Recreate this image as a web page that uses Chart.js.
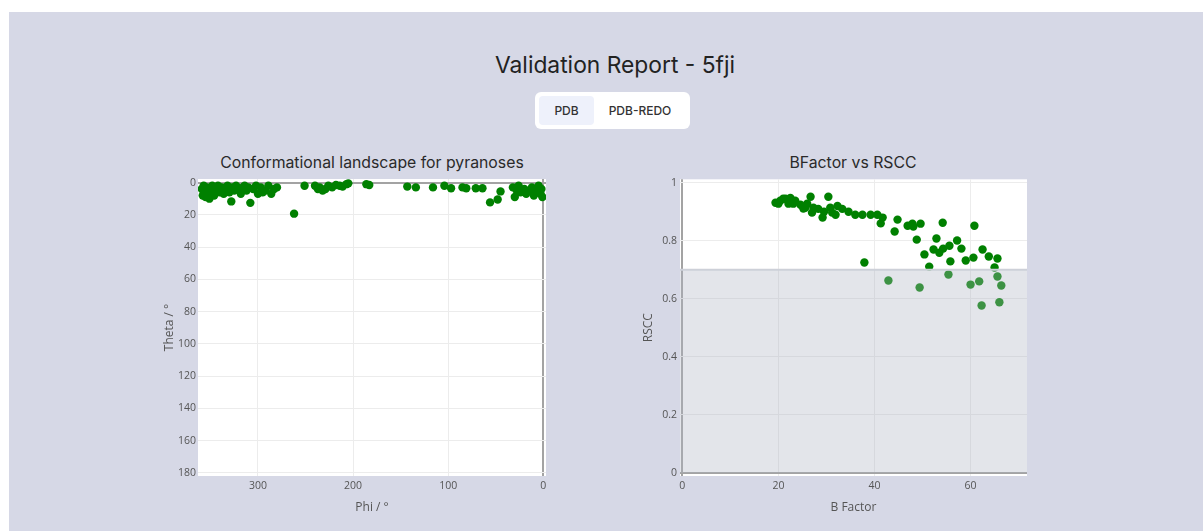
<!DOCTYPE html>
<html>
<head>
<meta charset="utf-8">
<title>Validation Report - 5fji</title>
<script src="https://cdn.jsdelivr.net/npm/chart.js@4.4.1/dist/chart.umd.min.js"></script>
<style>
  html, body { margin: 0; padding: 0; background: #fff; overflow: hidden; }
  #page {
    position: absolute; left: 9px; top: 12px; width: 1212px; height: 540px;
    background: #d6d8e6; font-family: Inter, "Noto Sans", sans-serif;
  }
  h1 {
    position: absolute; left: 0; width: 100%; top: 39px; margin: 0;
    text-align: center; font-weight: 400; font-size: 22.8px; color: #222;
  }
  .toggle {
    position: absolute; left: 526px; top: 80px; width: 155px; height: 37px;
    background: #fff; border-radius: 6px; box-sizing: border-box; padding: 4px;
    display: flex;
  }
  .toggle span {
    display: block; height: 29px; line-height: 29px; font-size: 12px; font-weight: 500;
    color: #333; text-align: center; border-radius: 4px;
  }
  .toggle .active { background: #eef1fb; width: 55px; }
  .toggle .other { width: 92px; }
  .plot-title {
    position: absolute; top: 141px; width: 400px; text-align: center;
    font-size: 15.8px; color: #2a2a2a;
  }
  canvas { position: absolute; }
</style>
</head>
<body>
<div id="page">
  <h1>Validation Report - 5fji</h1>
  <div class="toggle"><span class="active">PDB</span><span class="other">PDB-REDO</span></div>
  <div class="plot-title" style="left:163px">Conformational landscape for pyranoses</div>
  <div class="plot-title" style="left:644px">BFactor vs RSCC</div>
</div>
<canvas id="landscape" width="410" height="350" style="left:150px;top:170px"></canvas>
<canvas id="bfactor" width="410" height="350" style="left:630px;top:170px"></canvas>
<script>
// pyranose ring puckering (phi, theta) per sugar
const phiDeg = [
  359, 358, 357, 356, 355, 354, 352, 351, 349, 348, 346, 345,
  342, 340, 338, 336, 334, 332, 330, 327, 325, 323, 320, 318, 316, 314, 312, 310,
  328, 308, 305, 302, 300, 297, 295, 292, 289, 286, 283, 280,
  262, 251, 240, 237, 235, 232, 229, 226, 222, 218, 214, 211, 207, 205, 186, 183,
  143, 134, 116, 104, 97, 85, 81, 71, 64, 56, 48, 45, 30,
  32, 28, 26, 24, 20, 18, 15, 12, 10, 8, 6, 5, 3, 2, 1
];
const thetaDeg = [
  4, 8, 2, 6, 9, 3, 5, 10, 7, 2, 8, 4,
  2, 6, 3, 7, 4, 2, 6, 3, 5, 2, 4, 7, 3, 2, 5, 3,
  11.7, 12.6, 4, 2, 7, 3, 6, 5, 2, 7, 4, 3,
  19.3, 2, 2, 4, 3, 5, 4, 2, 3, 1.5, 2, 2.5, 1, 0.5, 1, 1.5,
  2.5, 3, 3, 2, 3.5, 3, 3.5, 3.5, 3.5, 12.3, 10.5, 5.5, 9,
  3, 5, 2, 6, 4, 7, 5, 3, 8, 4, 6, 2, 7, 4, 9
];
const phiTicks = [300, 200, 100, 0];
const thetaTicks = [0, 20, 40, 60, 80, 100, 120, 140, 160, 180];

// per-residue B factor and real space correlation
const bFactor = [
  19.4, 20.0, 20.4, 21.0, 21.5, 22.1, 22.5, 23.1, 23.5, 24.6, 25.2, 25.6, 26.0, 26.7, 27.0, 27.3,
  28.3, 29.2, 29.5, 30.4, 30.8, 31.2, 31.9, 32.3, 33.3, 34.6, 36.0, 37.5, 39.2, 40.6, 41.3, 41.7,
  37.9, 42.9, 44.2, 44.8, 46.9, 47.9, 48.1, 49.6, 48.8, 49.4, 50.4, 51.4, 52.3, 52.9, 53.5, 54.2,
  54.3, 55.4, 55.6, 55.8, 57.2, 58.1, 59.0, 60.0, 60.6, 60.8, 61.8, 62.3, 62.5, 63.8, 65.0, 65.6,
  65.6, 66.0, 66.4
];
const rscc = [
  0.931, 0.928, 0.938, 0.945, 0.945, 0.928, 0.948, 0.928, 0.938, 0.924, 0.911, 0.914, 0.928, 0.952, 0.897, 0.914,
  0.910, 0.880, 0.900, 0.952, 0.914, 0.897, 0.890, 0.920, 0.910, 0.900, 0.890, 0.890, 0.890, 0.890, 0.860, 0.880,
  0.725, 0.663, 0.832, 0.873, 0.852, 0.859, 0.849, 0.859, 0.804, 0.639, 0.753, 0.711, 0.770, 0.808, 0.759, 0.862,
  0.773, 0.684, 0.783, 0.729, 0.801, 0.773, 0.732, 0.649, 0.742, 0.852, 0.660, 0.577, 0.770, 0.746, 0.708, 0.677,
  0.739, 0.588, 0.646
];
const bTicks = [0, 20, 40, 60];
const rsccTicks = [0, 0.2, 0.4, 0.6, 0.8, 1];
const rsccCutoff = 0.7;

Chart.defaults.font.family = '"Open Sans", sans-serif';
Chart.defaults.color = '#555';

const plotBackground = {
  id: 'plotBackground',
  beforeDraw(chart) {
    const { ctx, chartArea: a } = chart;
    ctx.save();
    ctx.fillStyle = '#fff';
    ctx.fillRect(a.left, a.top, a.width, a.height);
    ctx.restore();
  }
};

const lowRsccBand = {
  id: 'lowRsccBand',
  afterDatasetsDraw(chart) {
    const { ctx, chartArea: a, scales: { y } } = chart;
    const top = y.getPixelForValue(rsccCutoff);
    const bottom = y.getPixelForValue(0);
    ctx.save();
    ctx.fillStyle = 'rgba(175,180,195,0.35)';
    ctx.fillRect(a.left, top, a.width, bottom - top);
    ctx.strokeStyle = '#cdd0d8';
    ctx.lineWidth = 2;
    ctx.beginPath();
    ctx.moveTo(a.left, top);
    ctx.lineTo(a.right, top);
    ctx.stroke();
    ctx.restore();
  }
};

function gridOpts() {
  return {
    drawTicks: false,
    color: c => (c.tick && c.tick.value === 0) ? '#a3a3a3' : '#ececec',
    lineWidth: c => (c.tick && c.tick.value === 0) ? 2 : 1
  };
}

function axis(ticks, opts) {
  return Object.assign({
    type: 'linear',
    border: { display: false },
    grid: gridOpts(),
    afterBuildTicks: s => { s.ticks = ticks.map(v => ({ value: v })); }
  }, opts);
}

function tickOpts(pad) {
  return { font: { size: 10.5 }, color: '#555', padding: pad, maxRotation: 0, callback: v => String(v) };
}

function makeChart(id, points, xAxis, yAxis, padRight, extra) {
  return new Chart(document.getElementById(id), {
    type: 'scatter',
    data: {
      datasets: [{
        data: points,
        backgroundColor: '#008000',
        borderWidth: 0,
        pointRadius: 4.2,
        clip: 0
      }]
    },
    options: {
      responsive: false,
      animation: false,
      events: [],
      layout: { padding: { top: 9, right: padRight, left: 0, bottom: 0 } },
      plugins: { legend: { display: false }, tooltip: { enabled: false } },
      scales: { x: xAxis, y: yAxis }
    },
    plugins: [plotBackground].concat(extra)
  });
}

makeChart('landscape',
  phiDeg.map((p, i) => ({ x: p, y: thetaDeg[i] })),
  axis(phiTicks, {
    min: -2.8, max: 363, reverse: true,
    afterFit: s => { s.height = 44; },
    ticks: tickOpts(4),
    title: { display: true, text: 'Phi / °', font: { size: 12 }, color: '#555', padding: { bottom: 5 } }
  }),
  axis(thetaTicks, {
    min: -2.2, max: 182, reverse: true,
    afterFit: s => { s.width = 48; },
    ticks: tickOpts(2),
    title: { display: true, text: 'Theta / °', font: { size: 12 }, color: '#555', padding: { top: 12 } }
  }),
  14, []);

makeChart('bfactor',
  bFactor.map((b, i) => ({ x: b, y: rscc[i] })),
  axis(bTicks, {
    min: -0.48, max: 71.75,
    afterFit: s => { s.height = 44; },
    ticks: tickOpts(4),
    title: { display: true, text: 'B Factor', font: { size: 12 }, color: '#555', padding: { bottom: 5 } }
  }),
  axis(rsccTicks, {
    min: -0.011, max: 1.012,
    afterFit: s => { s.width = 50; },
    ticks: tickOpts(3),
    title: { display: true, text: 'RSCC', font: { size: 12 }, color: '#555', padding: { top: 11 } }
  }),
  13, [lowRsccBand]);
</script>
</body>
</html>
